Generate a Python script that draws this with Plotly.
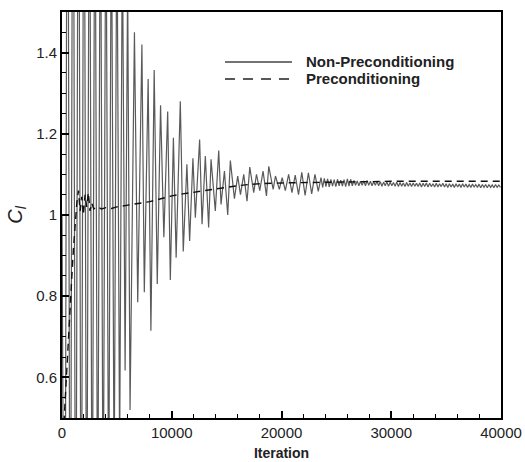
import plotly.graph_objects as go

# ---- Non-Preconditioning (solid): extrema of the oscillating history ----
iter_nonpre = [0, 250, 500, 750, 1000, 1250, 1500, 1750, 2000, 2250, 2500, 2750, 3000,
               3250, 3500, 3750, 4000, 4250, 4500, 4750, 5000, 5250, 5500, 5750, 5980,
               6200, 6600, 6900, 7280, 7500, 7850, 8100, 8400, 8680, 8980, 9280, 9630,
               9870, 10150, 10400, 10780, 11050, 11380, 11630, 11930, 12150, 12540, 12760,
               13060, 13360, 13580, 13970, 14280, 14490, 14800, 15100, 15340, 15710, 16010,
               16260, 16560, 16860, 17110, 17470, 17720, 18020, 18320, 18630, 18840, 19240,
               19450, 19800, 20060, 20350, 20650, 20950, 21250, 21550, 21850, 22150, 22450,
               22750, 23050, 23350, 23600,
               23750, 23900, 24050, 24200, 24350, 24500, 24650, 24800, 24950, 25100,
               25250, 25400, 25550, 25700, 25850, 26000, 26150, 26300, 26450, 26600,
               26750, 26900, 27050, 27200, 27350, 27500, 27650, 27800, 27950, 28100,
               28250, 28400, 28550, 28700, 28850, 29000, 29150, 29300, 29450, 29600,
               29750, 29900, 30050, 30200, 30350, 30500, 30650, 30800, 30950, 31100,
               31250, 31400, 31550, 31700, 31850, 32000, 32150, 32300, 32450, 32600,
               32750, 32900, 33050, 33200, 33350, 33500, 33650, 33800, 33950, 34100,
               34250, 34400, 34550, 34700, 34850, 35000, 35150, 35300, 35450, 35600,
               35750, 35900, 36050, 36200, 36350, 36500, 36650, 36800, 36950, 37100,
               37250, 37400, 37550, 37700, 37850, 38000, 38150, 38300, 38450, 38600,
               38750, 38900, 39050, 39200, 39350, 39500, 39650, 39800, 39950]
cl_nonpre = [1.0, -0.4, 2.5, -0.3, 2.4, -0.2, 2.3, -0.1, 2.2, 0.0, 2.1, 0.05, 2.0,
             0.1, 1.95, 0.15, 1.9, 0.2, 1.85, 0.3, 1.8, 0.4, 1.7, 0.617, 1.58,
             0.52, 1.45, 0.785, 1.42, 0.81, 1.335, 0.715, 1.357, 0.83, 1.27, 0.945, 1.255,
             0.84, 1.19, 0.895, 1.28, 0.91, 1.125, 0.936, 1.14, 0.993, 1.186, 0.977,
             1.145, 0.969, 1.137, 1.01, 1.159, 1.026, 1.108, 1.0, 1.134, 1.04, 1.096,
             1.05, 1.10, 1.034, 1.118, 1.055, 1.10, 1.06, 1.108, 1.047, 1.12, 1.063,
             1.096, 1.063, 1.092, 1.06, 1.10, 1.055, 1.098, 1.05, 1.105, 1.048, 1.104,
             1.052, 1.10, 1.058, 1.092,
             1.068, 1.090, 1.070, 1.089, 1.069, 1.088, 1.071, 1.087, 1.070, 1.088,
             1.072, 1.086, 1.071, 1.087, 1.070, 1.089, 1.071, 1.088, 1.072, 1.085,
             1.073, 1.084, 1.072, 1.083, 1.073, 1.084, 1.072, 1.085, 1.073, 1.083,
             1.072, 1.082, 1.073, 1.083, 1.072, 1.082, 1.071, 1.081, 1.072, 1.082,
             1.071, 1.081, 1.072, 1.080, 1.071, 1.081, 1.070, 1.080, 1.071, 1.079,
             1.070, 1.080, 1.071, 1.079, 1.070, 1.079, 1.071, 1.078, 1.070, 1.079,
             1.069, 1.078, 1.070, 1.079, 1.069, 1.078, 1.070, 1.077, 1.069, 1.078,
             1.069, 1.077, 1.070, 1.078, 1.069, 1.077, 1.068, 1.077, 1.069, 1.076,
             1.068, 1.077, 1.069, 1.076, 1.068, 1.077, 1.069, 1.076, 1.068, 1.075,
             1.068, 1.076, 1.069, 1.075, 1.068, 1.076, 1.067, 1.075, 1.068, 1.075,
             1.067, 1.075, 1.068, 1.074, 1.067, 1.075, 1.068, 1.074, 1.068]

# ---- Preconditioning (dashed) ----
iter_pre = [0, 150, 300, 450, 600, 750, 900, 1050, 1200, 1350, 1500, 1650, 1800, 1950,
            2100, 2250, 2400, 2550, 2700, 2900, 3200, 3600, 4000, 4500, 5000, 5500, 6000,
            7000, 8000, 9000, 10000, 11000, 12000, 13000, 14000, 15000, 16000, 17000,
            18000, 20000, 22000, 24000, 26000, 28000, 30000, 32000, 34000, 36000, 38000,
            40000]
cl_pre = [0.40, 0.48, 0.56, 0.64, 0.71, 0.78, 0.85, 0.92, 0.98, 1.03, 1.06, 1.01, 1.045,
          1.00, 1.05, 1.02, 1.055, 1.01, 1.03, 1.015, 1.02, 1.015, 1.018, 1.016, 1.02,
          1.022, 1.024, 1.028, 1.033, 1.040, 1.047, 1.052, 1.056, 1.060, 1.065, 1.069,
          1.072, 1.075, 1.077, 1.079, 1.080, 1.081, 1.082, 1.082, 1.083, 1.083, 1.083,
          1.083, 1.083, 1.083]

legend_names = ["Non-Preconditioning", "Preconditioning"]
x_ticks = [0, 10000, 20000, 30000, 40000]

FONT = "Liberation Sans, Arial, sans-serif"

fig = go.Figure()
fig.add_trace(go.Scatter(x=iter_nonpre, y=cl_nonpre, mode="lines",
                         line=dict(color="#5a5a5a", width=1.2),
                         name=legend_names[0], showlegend=False))
fig.add_trace(go.Scatter(x=iter_pre, y=cl_pre, mode="lines",
                         line=dict(color="#111111", width=1.4, dash="7px,5px"),
                         name=legend_names[1], showlegend=False))

# manual legend (paper coordinates)
legend_rows = [(0.877, "solid"), (0.835, "10px,8px")]
for (yp, dash), name in zip(legend_rows, legend_names):
    fig.add_shape(type="line", xref="paper", yref="paper",
                  x0=(225 - 62) / 439, x1=(292 - 62) / 439, y0=yp, y1=yp,
                  line=dict(color="#444444" if dash == "solid" else "#222222",
                            width=1.6, dash=dash))
    fig.add_annotation(xref="paper", yref="paper", x=(304 - 62) / 439, y=yp,
                       text="<b>%s</b>" % name, showarrow=False, xanchor="left",
                       yanchor="middle", font=dict(family=FONT, size=15, color="#222"))

axis_common = dict(showline=True, linecolor="black", linewidth=2, mirror=True,
                   ticks="inside", ticklen=7, tickwidth=2, tickcolor="black",
                   showgrid=False, zeroline=False, automargin=False,
                   tickfont=dict(family=FONT, size=15, color="#222"))

fig.update_xaxes(range=[0, 40000], tickvals=x_ticks, tickformat="d",
                 minor=dict(dtick=2000, tick0=0, ticks="inside", ticklen=4,
                            tickwidth=1, tickcolor="black", showgrid=False),
                 title=dict(text="<b>Iteration</b>",
                            font=dict(family=FONT, size=14, color="#222"), standoff=8),
                 **axis_common)
fig.update_yaxes(range=[0.5, 1.5], tick0=0.2, dtick=0.2,
                 minor=dict(dtick=0.05, tick0=0.5, ticks="inside", ticklen=4,
                            tickwidth=1, tickcolor="black", showgrid=False),
                 title=dict(text="<i>C<sub>l</sub></i>",
                            font=dict(family=FONT, size=20, color="#222"), standoff=8),
                 **axis_common)

fig.update_layout(width=525, height=462, margin=dict(l=62, r=24, t=12, b=44),
                  plot_bgcolor="white", paper_bgcolor="white", showlegend=False)

fig.write_html("out.html")
